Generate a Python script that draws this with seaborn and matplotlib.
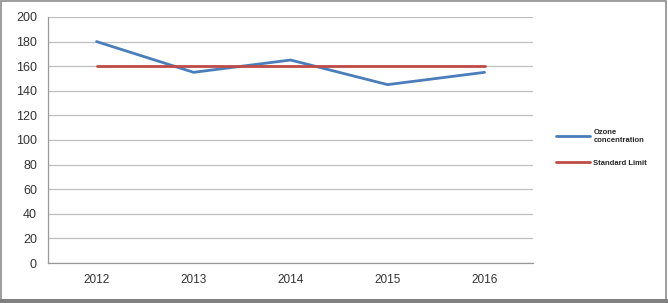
import matplotlib
matplotlib.use("Agg")
import matplotlib.pyplot as plt
import seaborn as sns
import pandas as pd

years = ["2012", "2013", "2014", "2015", "2016"]
ozone = [180, 155, 165, 145, 155]
limit = [160, 160, 160, 160, 160]
yticks = list(range(0, 201, 20))

sns.set_style("white")
plt.rcParams['font.family'] = ['Liberation Sans', 'DejaVu Sans']

df = pd.DataFrame({"Year": years * 2,
                   "Value": ozone + limit,
                   "Series": ["Ozone\nconcentration"] * 5 + ["Standard Limit"] * 5})

fig = plt.figure(figsize=(6.68, 3.03), dpi=100)
fig.patch.set_facecolor("white")
ax = fig.add_axes([0.072, 0.132, 0.726, 0.812])
sns.lineplot(data=df, x="Year", y="Value", hue="Series",
             palette={"Ozone\nconcentration": "#4a7ebb", "Standard Limit": "#be4b48"},
             linewidth=2, ax=ax, legend=False, sort=False)

ax.set_xlim(-0.5, 4.5)
ax.set_ylim(0, 200)
ax.set_yticks(yticks)
ax.set_yticklabels([str(v) for v in yticks], fontsize=9, color="#333333")
ax.set_xticks(range(len(years)))
ax.set_xticklabels(years, fontsize=8.5, color="#333333")
ax.set_xticks([i - 0.5 for i in range(len(years) + 1)], minor=True)
ax.tick_params(axis="x", which="major", length=0, pad=8)
ax.tick_params(axis="x", which="minor", length=4, color="#999999", direction="out")
ax.tick_params(axis="y", length=4, color="#999999", direction="out", pad=4)
ax.set_xlabel("")
ax.set_ylabel("")
ax.yaxis.grid(True, color="#bfbfbf", linewidth=0.9)
ax.set_axisbelow(True)
for s in ["top", "right"]:
    ax.spines[s].set_visible(False)
for s in ["left", "bottom"]:
    ax.spines[s].set_color("#999999")
    ax.spines[s].set_linewidth(0.9)

# legend
from matplotlib.lines import Line2D
handles = [Line2D([], [], color="#4a7ebb", lw=2), Line2D([], [], color="#be4b48", lw=2)]
leg = fig.legend(handles, ["Ozone\nconcentration", "Standard Limit"],
                 loc="center left", bbox_to_anchor=(0.822, 0.512), frameon=False,
                 prop={"size": 5.5, "weight": "bold"}, handlelength=4.5,
                 labelspacing=2.1, handletextpad=0.4)

# figure border
border = plt.Rectangle((0.002, 0.008), 0.995, 0.99, transform=fig.transFigure,
                       fill=False, edgecolor="#8c8c8c", linewidth=1.2)
fig.add_artist(border)
bottom = plt.Rectangle((0, 0), 1, 0.012, transform=fig.transFigure,
                       color="#808080", linewidth=0)
fig.add_artist(bottom)

fig.savefig("out.png", dpi=100)
